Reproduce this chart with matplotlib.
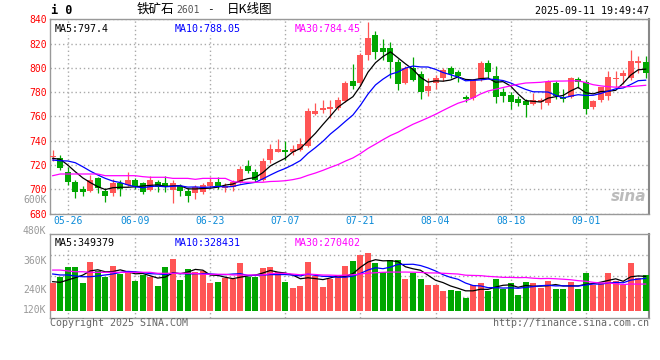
#!/usr/bin/env python3
# plot.py - iron ore 2601 daily K chart (sina style)

import numpy as np
import pandas as pd
import matplotlib
matplotlib.use("Agg")
import matplotlib.pyplot as plt

plt.rcParams["font.family"] = ["DejaVu Sans Mono", "Noto Sans CJK SC"]

# ---- data ----
dates = ["05-26", "06-09", "06-23", "07-07", "07-21", "08-04", "08-18", "09-01"]
date_idx = [2, 11, 21, 31, 41, 51, 61, 71]

opens = [726.8, 725.5, 714.5, 706.3, 700.0, 698.8, 709.3, 698.8, 697.2, 704.9,
         703.5, 707.7, 704.9, 699.4, 706.0, 704.9, 699.4, 702.7, 698.8, 696.7,
         698.0, 703.0, 705.8, 701.3, 702.1, 705.8, 719.4, 714.2, 707.7, 724.1,
         730.9, 732.3, 730.9, 732.3, 735.9, 761.9, 765.3, 766.1, 767.2, 772.9,
         789.1, 787.7, 810.6, 827.2, 816.7, 816.7, 804.7, 787.3, 800.2, 794.6,
         780.6, 787.7, 791.2, 800.2, 796.4, 776.3, 775.0, 790.4, 803.9, 793.6,
         780.0, 777.7, 774.3, 772.6, 770.4, 772.1, 770.9, 787.7, 776.3, 775.8,
         790.9, 788.2, 767.7, 773.3, 776.9, 790.6, 792.9, 792.0, 803.6, 805.0]
highs = [732.3, 728.2, 718.6, 707.7, 702.7, 712.0, 710.4, 700.8, 708.2, 707.7,
         714.2, 709.0, 706.3, 711.0, 707.7, 711.0, 707.7, 704.4, 700.8, 703.3,
         705.4, 709.9, 710.4, 704.9, 707.7, 719.4, 724.1, 716.5, 725.5, 737.3,
         741.4, 740.0, 736.4, 742.0, 767.2, 771.3, 773.5, 773.5, 775.7, 789.1,
         802.9, 812.3, 837.7, 829.9, 824.1, 821.3, 807.5, 801.6, 809.3, 797.3,
         791.5, 794.0, 799.5, 801.6, 797.8, 777.7, 790.7, 805.2, 806.1, 801.6,
         783.6, 780.3, 776.4, 774.6, 779.1, 774.9, 789.6, 788.8, 782.3, 792.8,
         792.8, 790.1, 773.9, 784.3, 797.5, 797.2, 798.5, 814.7, 809.8, 809.8]
lows = [723.5, 715.9, 703.5, 693.1, 694.5, 698.0, 696.7, 689.8, 694.5, 694.5,
        702.7, 700.0, 696.1, 698.8, 698.0, 698.0, 689.0, 694.5, 689.8, 691.8,
        696.1, 701.3, 700.0, 698.0, 698.6, 704.9, 713.7, 706.3, 706.8, 721.4,
        730.9, 724.1, 728.2, 731.8, 735.1, 760.9, 763.1, 758.4, 765.3, 772.1,
        782.6, 785.0, 806.7, 807.3, 806.7, 791.8, 781.7, 786.6, 789.2, 774.6,
        777.2, 782.3, 789.1, 791.2, 788.3, 772.2, 773.1, 788.8, 792.0, 771.3,
        772.0, 766.1, 768.2, 759.8, 769.0, 766.1, 769.6, 774.6, 771.9, 774.9,
        783.1, 761.9, 766.2, 772.1, 773.9, 784.3, 786.4, 789.7, 796.1, 791.9]
closes = [727.0, 717.8, 706.3, 698.0, 698.0, 707.7, 700.8, 694.5, 705.4, 700.0,
          707.7, 702.7, 698.0, 707.7, 702.1, 701.6, 704.9, 698.8, 694.5, 701.6,
          703.5, 706.3, 703.0, 703.0, 705.8, 716.7, 715.3, 707.7, 723.3, 733.2,
          733.2, 730.9, 733.2, 737.3, 764.7, 764.4, 767.2, 768.0, 773.5, 787.2,
          785.3, 810.9, 824.9, 812.6, 812.6, 804.4, 786.4, 800.2, 789.8, 780.0,
          784.7, 791.8, 798.6, 794.6, 792.9, 774.1, 790.1, 803.9, 796.5, 776.1,
          776.4, 772.1, 771.3, 769.1, 773.1, 773.5, 788.2, 777.2, 774.3, 791.5,
          788.2, 766.3, 772.4, 783.8, 792.8, 792.0, 795.5, 805.7, 805.7, 795.7]
# volume in thousands of lots
volumes = [285, 346, 448, 448, 285, 499, 405, 346, 459, 371,
           397, 306, 364, 340, 255, 448, 527, 313, 425, 391,
           408, 279, 296, 330, 320, 483, 340, 340, 438, 448,
           397, 296, 234, 252, 499, 354, 245, 320, 364, 455,
           506, 568, 585, 483, 397, 517, 517, 323, 381, 323,
           262, 262, 204, 211, 204, 132, 262, 285, 204, 323,
           221, 285, 160, 296, 285, 228, 303, 221, 221, 296,
           221, 387, 262, 285, 387, 303, 262, 489, 330, 364]

# moving-average values before enough bars are on screen
ma5_head = [725.5, 724.7, 720.0, 714.5]
ma10_head = [724.1, 723.5, 723.3, 721.9, 718.6, 715.0, 711.8, 709.0, 706.8]
ma30_head = [711.2] + [712.6] * 6 + [711.2] * 5 + [710.4] + [709.9] * 3 \
    + [709.0] * 3 + [708.2] + [709.0] * 4 + [706.3] + [705.8] * 4
vma5_head = [296, 289, 313, 336]
vma10_head = [374, 364, 364, 354, 346, 346, 354, 364, 374]
vma30_head = [414, 414, 405, 397, 397] + [391] * 9 + [381] * 6 + [371] * 4 + [364] * 5

price_ticks = list(range(680, 841, 20))
vol_labels = ["600K", "480K", "360K", "240K", "120K"]

legend_price = ["MA5:797.4", "MA10:788.05", "MA30:784.45"]
legend_vol = ["MA5:349379", "MA10:328431", "MA30:270402"]

RED = "#ff5555"
GREEN = "#00a600"
MA_COLORS = ["black", "#0000ff", "#ff00ff"]
GRID = "#aaaaaa"
DATE_BLUE = "#0a8ad8"


def moving(values, n, head):
    ma = pd.Series(values, dtype=float).rolling(n).mean().to_numpy()
    ma[:n - 1] = head
    return ma


def rect(l, t, r, b, W=660, H=360):
    return [l / W, 1 - b / H, (r - l) / W, (b - t) / H]


def main():
    fig = plt.figure(figsize=(6.6, 3.6), dpi=100)
    ax = fig.add_axes(rect(50, 19.2, 649, 213.6))
    axv = fig.add_axes(rect(50, 234.3, 649, 318.3))

    x = np.arange(len(closes))
    o = np.array(opens)
    c = np.array(closes)
    up = c >= o
    colors = np.where(up, RED, GREEN)

    # candles
    ax.vlines(x, lows, highs, colors=colors, lw=0.9, zorder=3)
    body = np.maximum(np.abs(c - o), 0.8)
    ax.bar(x, body, bottom=np.minimum(o, c), width=0.8, color=colors,
           linewidth=0, zorder=4)

    for n, head, col in zip((5, 10, 30), (ma5_head, ma10_head, ma30_head), MA_COLORS):
        ax.plot(x, moving(closes, n, head), color=col, lw=0.9, zorder=5)

    ax.set_xlim(-0.36, 79.44)
    ax.set_ylim(680, 840)
    ax.set_yticks(price_ticks)
    ax.set_yticklabels([str(t) for t in price_ticks], color="red", fontsize=7)
    ax.set_xticks(date_idx)
    ax.set_xticklabels(dates, color=DATE_BLUE, fontsize=7)
    ax.tick_params(length=0, pad=2)
    ax.grid(True, linestyle=(0, (1, 2)), color=GRID, lw=1)

    # volume
    axv.bar(x, volumes, width=0.8, color=colors, linewidth=0, zorder=3)
    for n, head, col in zip((5, 10, 30), (vma5_head, vma10_head, vma30_head), MA_COLORS):
        axv.plot(x, moving(volumes, n, head), color=col, lw=0.9, zorder=5)
    axv.set_xlim(-0.36, 79.44)
    axv.set_ylim(-77, 778)
    axv.set_xticks(date_idx)
    axv.set_xticklabels([])
    axv.set_yticks([])
    axv.tick_params(length=0)
    axv.grid(True, axis="x", linestyle=(0, (1, 2)), color=GRID, lw=1)
    for f in (0.25, 0.5, 0.75):
        axv.plot([0, 1], [f, f], transform=axv.transAxes, ls=(0, (1, 2)),
                 color=GRID, lw=1, zorder=1)
    for lab, f in zip(vol_labels, (1.408, 1.039, 0.682, 0.337, 0.099)):
        axv.text(-0.006, f, lab, transform=axv.transAxes, ha="right",
                 va="center", color="#999999", fontsize=7, clip_on=False)

    for a in (ax, axv):
        for s in a.spines.values():
            s.set_color("#999999")
            s.set_linewidth(1)
        a.spines["right"].set_color("#888888")
        a.spines["right"].set_linewidth(1.5)

    # legends
    for a, labels, yf in ((ax, legend_price, 0.975), (axv, legend_vol, 0.96)):
        for lab, xf, col in zip(labels, (0.007, 0.2087, 0.409), MA_COLORS):
            a.text(xf, yf, lab, transform=a.transAxes, ha="left", va="top",
                   color=col, fontsize=7.2, zorder=10,
                   bbox=dict(fc="white", ec="none", pad=0.6))

    # watermark
    ax.text(0.995, 0.05, "sina", transform=ax.transAxes, ha="right",
            va="bottom", fontsize=11, color="#bbbbbb", style="italic",
            weight="bold", family="DejaVu Sans", zorder=2)

    W, H = 660, 360

    def ftext(px, py, s, **kw):
        fig.text(px / W, 1 - py / H, s, **kw)

    ftext(51, 10.5, "i 0", fontsize=8.5, weight="bold", va="center")
    ftext(137, 9.5, "铁矿石", fontsize=9, va="center",
          family=["Noto Sans CJK SC"])
    ftext(176.5, 10, "2601", fontsize=7, va="center", color="#555555")
    ftext(207, 9.5, "-", fontsize=8, va="center")
    ftext(226.5, 9.5, "日K线图", fontsize=9, va="center",
          family=["Noto Sans CJK SC"])
    ftext(649, 11.5, "2025-09-11 19:49:47", fontsize=7.2, va="center",
          ha="right")
    ftext(50, 323.5, "Copyright 2025 SINA.COM", fontsize=7.2, va="center",
          color="#666666")
    ftext(649, 323.5, "http://finance.sina.com.cn", fontsize=7.2,
          va="center", ha="right", color="#666666")

    fig.savefig("out.png", dpi=100, facecolor="white")


if __name__ == "__main__":
    main()
